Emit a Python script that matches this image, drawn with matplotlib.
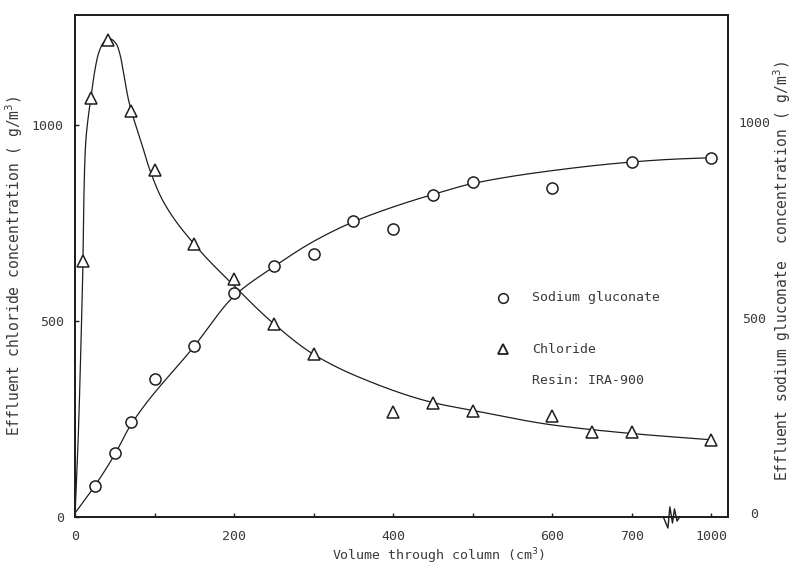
import numpy as np
import matplotlib
matplotlib.use("Agg")
import matplotlib.pyplot as plt

# ---------------- data ----------------
# Chloride (left axis), volume in cm3, concentration g/m3
cl_x = [10, 20, 42, 70, 100, 150, 200, 250, 300, 400, 450, 500, 600, 650, 700, 1000]
cl_y = [652, 1068, 1218, 1035, 886, 696, 607, 493, 415, 267, 290, 270, 257, 217, 218, 197]

# Sodium gluconate (right axis)
gl_x = [25, 50, 70, 100, 150, 200, 250, 300, 350, 400, 450, 500, 600, 700, 1000]
gl_y = [70, 153, 234, 344, 427, 562, 632, 662, 748, 726, 813, 846, 832, 898, 909]

# hand-drawn fitted curves
clc_x = [0, 4, 8, 10, 11, 13, 16, 20, 24, 29.4, 35.6, 43, 52, 57, 61.6, 67, 71, 82, 94, 111, 150,
         200, 250, 300, 358, 450, 500, 600, 700, 1000]
clc_y = [0, 200, 480, 652, 800, 940, 1010, 1068, 1128, 1182, 1210, 1221, 1207, 1177, 1126, 1067, 1035,
         965, 886, 805, 696, 590, 493, 415, 356, 292, 272, 235, 213, 197]

glc_x = [0, 25, 50, 70, 150, 200, 250, 300, 350, 400, 450, 500, 600, 700, 850, 1000]
glc_y = [0, 70, 150, 225, 427, 555, 630, 695, 745, 783, 815, 843, 876, 898, 905, 909]

xticks = [0, 100, 200, 300, 400, 500, 600, 700, 1000]
xticklabels = ["0", "", "200", "", "400", "", "600", "700", "1000"]
yticks = [0, 500, 1000]

BREAK_START = 700.0
BREAK_RATIO = 3.0


def fwd(x):
    x = np.asarray(x, dtype=float)
    return np.where(x <= BREAK_START, x, BREAK_START + (x - BREAK_START) / BREAK_RATIO)


def inv(d):
    d = np.asarray(d, dtype=float)
    return np.where(d <= BREAK_START, d, BREAK_START + (d - BREAK_START) * BREAK_RATIO)


def pchip(x, y, xs):
    x = np.asarray(x, float); y = np.asarray(y, float)
    h = np.diff(x); d = np.diff(y) / h
    n = len(x); m = np.zeros(n)
    for k in range(1, n - 1):
        if d[k - 1] * d[k] > 0:
            w1 = 2 * h[k] + h[k - 1]; w2 = h[k] + 2 * h[k - 1]
            m[k] = (w1 + w2) / (w1 / d[k - 1] + w2 / d[k])
    m[0] = d[0]; m[-1] = d[-1]
    idx = np.clip(np.searchsorted(x, xs) - 1, 0, n - 2)
    t = (xs - x[idx]) / h[idx]
    h00 = 2 * t**3 - 3 * t**2 + 1; h10 = t**3 - 2 * t**2 + t
    h01 = -2 * t**3 + 3 * t**2; h11 = t**3 - t**2
    return h00 * y[idx] + h10 * h[idx] * m[idx] + h01 * y[idx + 1] + h11 * h[idx] * m[idx + 1]


INK = "#1e1e1e"
TXT = "#3a3a3a"
MONO = "DejaVu Sans Mono"

fig = plt.figure(figsize=(7.96, 5.68), dpi=100)
ax = fig.add_axes([75 / 796, 51 / 568, 653 / 796, 502 / 568])
ax2 = ax.twinx()

ax.set_xscale("function", functions=(fwd, inv))
ax.set_xlim(0, inv(821.0))
ax.set_ylim(0, 1281)
ax2.set_ylim(-10, 1274)

# curves, drawn smooth in display space
for cx, cy, a in [(clc_x, clc_y, ax), (glc_x, glc_y, ax2)]:
    dx = fwd(cx)
    xs = np.linspace(dx[0], dx[-1], 2000)
    a.plot(inv(xs), pchip(dx, cy, xs), color=INK, lw=0.9, zorder=2)

ax.plot(cl_x, cl_y, linestyle="none", marker="^", ms=9, mfc="white", mec=INK, mew=1.1, zorder=3)
ax2.plot(gl_x, gl_y, linestyle="none", marker="o", ms=8, mfc="white", mec=INK, mew=1.1, zorder=3)

# axes styling
for a in (ax, ax2):
    for s in a.spines.values():
        s.set_color(INK); s.set_linewidth(1.3)
ax.set_xticks(xticks)
ax.set_xticklabels(xticklabels)
ax.minorticks_off()
ax.set_yticks(yticks)
ax.tick_params(axis="both", direction="in", length=3, width=1, color=INK,
               labelcolor=TXT, labelsize=9.5, pad=8)
ax.tick_params(axis="x", pad=9)
for lab in ax.get_xticklabels() + ax.get_yticklabels():
    lab.set_family(MONO)
ax2.set_yticks(yticks)
ax2.tick_params(axis="y", length=0, labelcolor=TXT, labelsize=9.5, pad=19)
for lab in ax2.get_yticklabels():
    lab.set_family(MONO)
    lab.set_horizontalalignment("center")

ax.set_xlabel("Volume through column (cm$^3$)", family=MONO, fontsize=9.5, color=TXT)
ax.xaxis.set_label_coords(0.556, -0.058)
ax.set_ylabel("Effluent chloride concentration ( g/m$^3$)", family=MONO, fontsize=10.5, color=TXT)
ax.yaxis.set_label_coords(-0.077, 0.5)
ax2.set_ylabel("Effluent sodium gluconate  concentration ( g/m$^3$)", family=MONO, fontsize=10.5,
               color=TXT, rotation=90)
ax2.yaxis.set_label_coords(1.066, 0.49)

# axis break symbol on the x axis
bx = [0.901, 0.908, 0.911, 0.915, 0.918, 0.922, 0.926]
by = [0.0, -0.022, 0.020, -0.012, 0.016, -0.008, 0.0]
ax.plot(bx, by, transform=ax.transAxes, color=INK, lw=1.0, clip_on=False, zorder=5)

# legend-like annotation
ax.plot([0.655], [0.437], transform=ax.transAxes, marker="o", ms=7, mfc="white", mec=INK, mew=1.1)
ax.text(0.70, 0.437, "Sodium gluconate", transform=ax.transAxes, family=MONO, fontsize=9.5,
        color=TXT, va="center")
ax.plot([0.655], [0.334], transform=ax.transAxes, marker="^", ms=7, mfc="white", mec=INK, mew=1.3)
ax.text(0.70, 0.334, "Chloride", transform=ax.transAxes, family=MONO, fontsize=9.5,
        color=TXT, va="center")
ax.text(0.70, 0.272, "Resin: IRA-900", transform=ax.transAxes, family=MONO, fontsize=9.5,
        color=TXT, va="center")

fig.savefig("out.png", dpi=100, facecolor="white")
